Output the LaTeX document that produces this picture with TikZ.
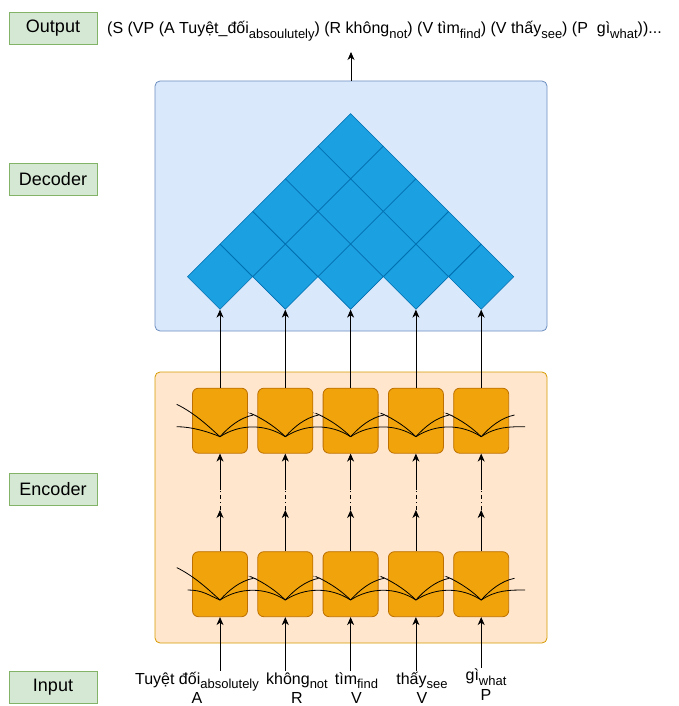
\documentclass[tikz,border=0pt]{standalone}
\usepackage{fontspec}
\setmainfont{Liberation Sans}
\usetikzlibrary{shapes.geometric,arrows.meta}
\definecolor{lblfill}{HTML}{D5E8D4}
\definecolor{lblline}{HTML}{82B366}
\definecolor{decfill}{HTML}{DAE8FC}
\definecolor{decline}{HTML}{6C8EBF}
\definecolor{encfill}{HTML}{FFE6CC}
\definecolor{encline}{HTML}{D79B00}
\definecolor{cellfill}{HTML}{F0A30A}
\definecolor{cellline}{HTML}{BD7000}
\definecolor{diafill}{HTML}{1BA1E2}
\definecolor{dialine}{HTML}{006EAF}
\newcommand\lsub[1]{\raisebox{-0.3em}{\fontsize{13}{15}\selectfont #1}}
\tikzset{
  lbl/.style={draw=lblline, fill=lblfill, minimum width=88pt, minimum height=32pt, inner sep=0pt, font=\fontsize{18}{20}\selectfont},
  container/.style={rounded corners=5pt, line width=0.8pt},
  cellbox/.style={draw=cellline, fill=cellfill, rounded corners=6pt, minimum width=55pt, minimum height=65pt, inner sep=0pt, line width=0.8pt},
  diabox/.style={diamond, draw=dialine, fill=diafill, minimum width=65.3pt, minimum height=65.3pt, inner sep=0pt, line width=0.6pt},
  arr/.style={-{Stealth[length=8pt,width=7pt,inset=2.5pt]}, line width=0.8pt},
  curve/.style={line width=0.8pt},
  txt/.style={font=\fontsize{16}{19}\selectfont, inner sep=1pt},
}
\begin{document}
\begin{tikzpicture}[x=1pt,y=-1pt]
\useasboundingbox (0,0) rectangle (678,706);
% left labels
\node[lbl] (lout) at (53,28) {Output};
\node[lbl] (ldec) at (53,179) {Decoder};
\node[lbl] (lenc) at (53,489) {Encoder};
\node[lbl] (linp) at (53,687) {Input};
% containers
\node[container, draw=decline, fill=decfill, minimum width=392pt, minimum height=250pt] (dec) at (351,206) {};
\node[container, draw=encline, fill=encfill, minimum width=392pt, minimum height=271pt] (enc) at (351,507.5) {};
% output text
\node[txt, anchor=base west, inner sep=0pt] (outtext) at (107,34) {(S (VP (A Tuyệt\_đối\lsub{absoulutely}) (R không\lsub{not}) (V tìm\lsub{find}) (V thấy\lsub{see}) (P~~gì\lsub{what}))...};
\coordinate (outtip) at (351,52);
\draw[arr] (dec.north) -- (outtip);
% diamonds
\foreach \r in {0,...,4}{
  \pgfmathtruncatemacro\jmax{4-\r}
  \foreach \j in {0,...,\jmax}{
    \node[diabox] (d\r\j) at ({220+65.3*\j+32.65*\r},{276.7-32.65*\r}) {};
  }
}
% cells
\foreach \i in {0,...,4}{
  \node[cellbox] (hi\i) at ({220+65.3*\i},420.7) {};
  \node[cellbox] (lo\i) at ({220+65.3*\i},584.2) {};
}
% curves inside encoder layers
\foreach \P/\ws in {436.7/43.3, 600/32.3}{
  \foreach \i in {0,...,4}{
    \pgfmathsetmacro\cx{220+65.3*\i}
    \ifnum\i=0
      \draw[curve] ({\cx-43.3},{\P-32.4}) .. controls ({\cx-25},{\P-23.5}) and ({\cx-10},{\P-9}) .. (\cx,\P);
    \else
      \draw[curve] ({\cx-35},{\P-23.5}) .. controls ({\cx-20},{\P-17}) and ({\cx-8},{\P-8}) .. (\cx,\P);
    \fi
    \draw[curve] (\cx,\P) .. controls ({\cx+9},{\P-10}) and ({\cx+20},{\P-19}) .. ({\cx+33.3},{\P-21.7});
    \ifnum\i<4
      \draw[line width=0.5pt, densely dotted] ({\cx+28},{\P-24}) -- ({\cx+37},{\P-21});
      \draw[curve] (\cx,\P) .. controls ({\cx+20},{\P-13}) and ({\cx+45.3},{\P-13}) .. ({\cx+65.3},\P);
    \fi
  }
  \draw[curve] ({220-\ws},{\P-10}) .. controls ({220-\ws+15},{\P-10}) and ({220-12},{\P-5}) .. (220,\P);
  \draw[curve] ({220+4*65.3},\P) .. controls ({220+4*65.3+15},{\P-10}) and ({220+4*65.3+28},{\P-10}) .. ({220+4*65.3+44},{\P-10});
}
% connectors between layers
\foreach \i in {0,...,4}{
  \pgfmathsetmacro\cx{220+65.3*\i}
  \coordinate (ma\i) at (\cx,510);
  \coordinate (mb\i) at (\cx,490);
  \draw[arr] (lo\i.north) -- (ma\i);
  \draw[line width=0.8pt, dash pattern=on 4pt off 3pt on 1pt off 3pt] (ma\i) -- (mb\i);
  \draw[arr] (mb\i) -- (hi\i.south);
  \draw[arr] (hi\i.north) -- (d0\i.south);
}
% inputs
\node[txt, anchor=base] (w0) at (197,684) {Tuyệt đối\lsub{absolutely}};
\node[txt, anchor=base] (w1) at (297,684) {không\lsub{not}};
\node[txt, anchor=base] (w2) at (356.5,684) {tìm\lsub{find}};
\node[txt, anchor=base] (w3) at (422,684) {thấy\lsub{see}};
\node[txt, anchor=base] (w4) at (486,680.5) {gì\lsub{what}};
\node[txt, anchor=base] (t0) at (197,703) {A};
\node[txt, anchor=base] (t1) at (297,703) {R};
\node[txt, anchor=base] (t2) at (356.5,703) {V};
\node[txt, anchor=base] (t3) at (422,703) {V};
\node[txt, anchor=base] (t4) at (486,700) {P};
\foreach \i in {0,...,4}{
  \draw[arr] (w\i.north -| lo\i.south) -- (lo\i.south);
}
\end{tikzpicture}
\end{document}
